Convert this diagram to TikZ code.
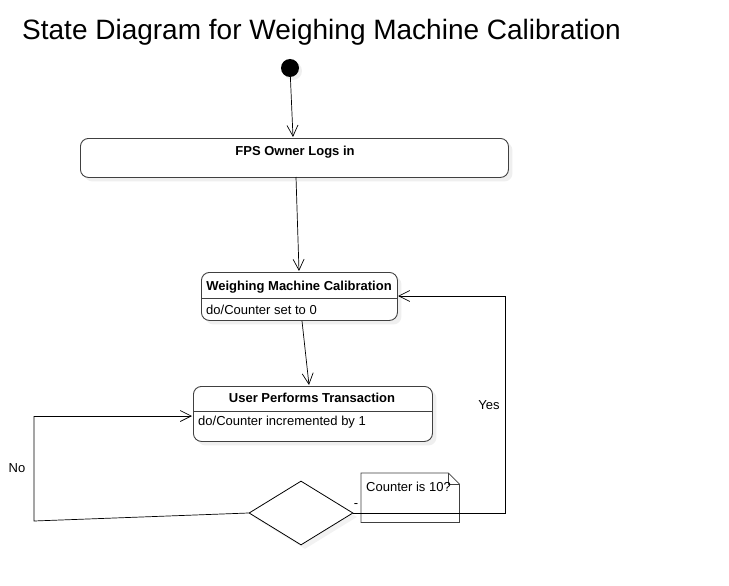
\documentclass[tikz,border=0pt]{standalone}
\usepackage{fontspec}
\setmainfont{Liberation Sans}
\usetikzlibrary{arrows.meta,shapes.geometric,shadows,calc}
\tikzset{
  state/.style={draw=black!75, line width=0.9pt, rounded corners=8, fill=white,
    drop shadow={opacity=0.12, shadow xshift=4pt, shadow yshift=-4pt}, inner sep=0pt},
  lbl/.style={font=\fontsize{13}{15}\selectfont, inner sep=0pt},
  blbl/.style={lbl, font=\fontsize{13}{15}\selectfont\bfseries},
  flow/.style={draw=black, line width=0.7pt, -{Straight Barb[length=11pt,width=11pt,line width=0.7pt]}},
  plain/.style={draw=black, line width=0.7pt},
}
\begin{document}
\begin{tikzpicture}[x=1pt,y=-1pt]
\useasboundingbox[fill=white] (0,0) rectangle (729,586);
% title
\node[anchor=west, inner sep=0pt, font=\fontsize{28}{33}\selectfont] (title) at (22,32) {State Diagram for Weighing Machine Calibration};
% initial
\node[circle, fill=black, minimum size=18, inner sep=0pt,
  drop shadow={opacity=0.12, shadow xshift=3pt, shadow yshift=-3pt}] (init) at (290,68) {};
% FPS
\node[state, anchor=north west, minimum width=428, minimum height=39] (fps) at (80,138) {};
\node[blbl] (fpst) at (295,152) {FPS Owner Logs in};
% WMC
\node[state, anchor=north west, minimum width=196, minimum height=48] (wmc) at (201,272) {};
\coordinate (wmcdl) at (201,298);
\coordinate (wmcdr) at (397,298);
\draw[draw=black!75, line width=0.9pt] (wmcdl) -- (wmcdr);
\node[blbl] (wmct) at (299,287) {Weighing Machine Calibration};
\node[lbl, anchor=west] (wmcd) at (206,310) {do/Counter set to 0};
% UPT
\node[state, anchor=north west, minimum width=239, minimum height=55] (upt) at (193,386) {};
\coordinate (uptdl) at (193,411);
\coordinate (uptdr) at (432,411);
\draw[draw=black!75, line width=0.9pt] (uptdl) -- (uptdr);
\node[blbl] (uptt) at (312,398) {User Performs Transaction};
\node[lbl, anchor=west] (uptd) at (198,422) {do/Counter incremented by 1};
% decision
\node[diamond, draw=black, line width=0.8pt, minimum width=104, minimum height=64, inner sep=0pt, fill=white,
  drop shadow={opacity=0.1, shadow xshift=4pt, shadow yshift=-4pt}] (dec) at (301,513) {};
% note
\node[anchor=north west, minimum width=98, minimum height=49, inner sep=0pt] (note) at (361,473) {};
\draw[draw=black!75, line width=0.8pt] (note.north west) -- ($(note.north east)+(-11,0)$) -- ($(note.north east)+(0,11)$) -- (note.south east) -- (note.south west) -- cycle;
\draw[draw=black!75, line width=0.8pt] ($(note.north east)+(-11,0)$) -- ($(note.north east)+(-11,11)$) -- ($(note.north east)+(0,11)$);
\node[lbl, anchor=west] (notet) at (366,487) {Counter is 10?};
\node[lbl] (dash) at (356,506) {-};
% connectors
\draw[flow] (init) -- (293,137);
\draw[flow] (296,177) -- (299,271);
\draw[flow] (302,321) -- (309,385);
\coordinate (yc1) at (505,513);
\coordinate (yc2) at (505,296);
\coordinate (yend) at (398,296);
\draw[plain] (dec.east) -- (yc1) -- (yc2);
\draw[flow] (yc2) -- (yend);
\node[lbl] (yes) at (489,405) {Yes};
\coordinate (nc1) at (34,521);
\coordinate (nc2) at (34,416);
\coordinate (nend) at (192,416);
\draw[plain] (dec.west) -- (nc1) -- (nc2);
\draw[flow] (nc2) -- (nend);
\node[lbl] (no) at (17,468) {No};
\end{tikzpicture}
\end{document}
